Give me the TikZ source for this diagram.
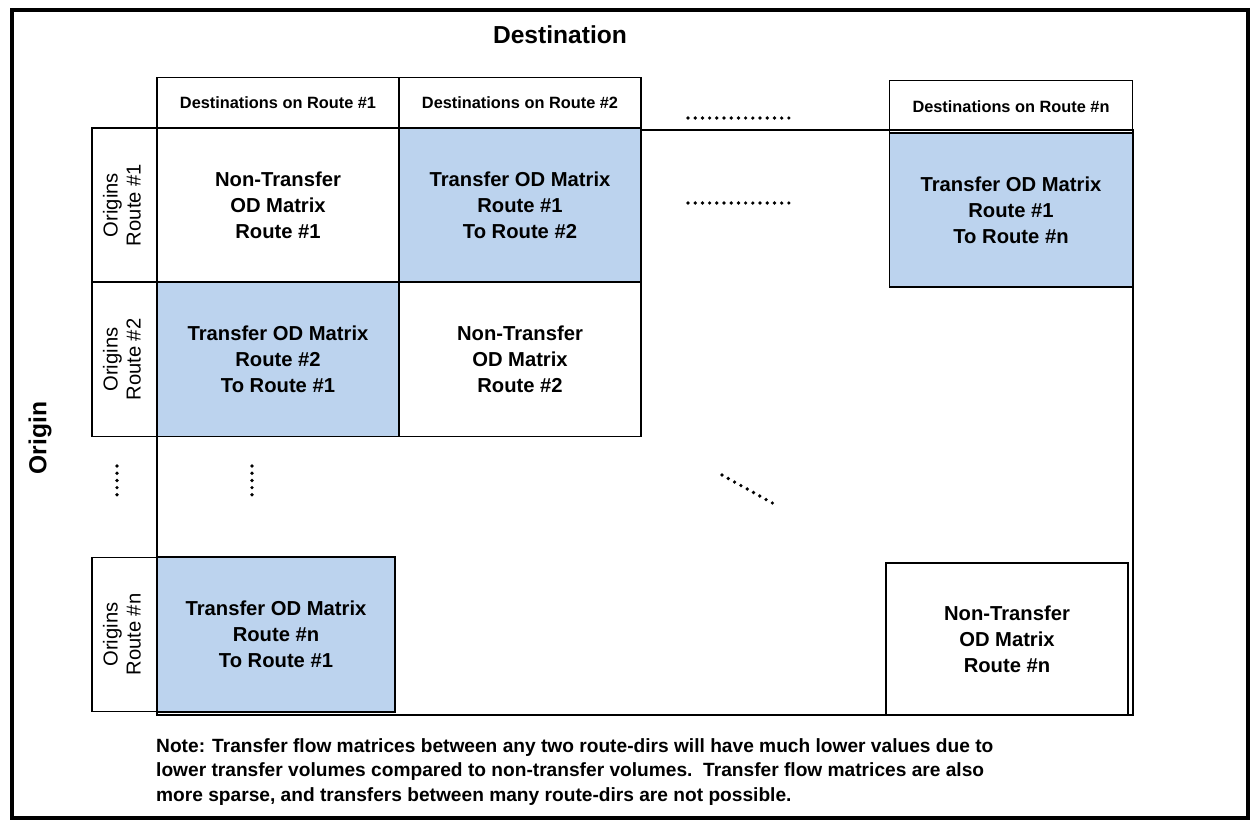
\documentclass[tikz,border=0pt]{standalone}
\usepackage{fontspec}
\setmainfont{Liberation Sans}
\usepackage{tikz}
\definecolor{tblue}{RGB}{188,211,238}
\tikzset{
    cell/.style={draw, line width=0.8pt, minimum width=4.84cm, minimum height=3.08cm,
        align=center, font=\bfseries\fontsize{11.5}{14.7}\selectfont, inner sep=0pt},
    head/.style={draw, line width=0.8pt, minimum width=4.84cm, minimum height=1.02cm,
        font=\bfseries\fontsize{9.3}{11}\selectfont, inner sep=0pt},
    orig/.style={draw, line width=0.8pt, minimum width=1.3cm, minimum height=3.08cm,
        inner sep=0pt, font=\fontsize{11.5}{13.2}\selectfont},
    dots/.style={line width=2.1pt, line cap=round, dash pattern=on 0pt off 4.1pt}
}
\newcommand{\origtext}[1]{\rotatebox{90}{\begin{tabular}{@{}c@{}}Origins\\Route #1\end{tabular}}}
\begin{document}
\begin{tikzpicture}[x=0.02cm, y=-0.02cm]
    \useasboundingbox (0,0) rectangle (1253,826);
    \draw[line width=1.8pt] (12,10) rectangle (1248,818);
    \node[font=\bfseries\fontsize{14}{16}\selectfont] (dest) at (560,35) {Destination};
    \node[font=\bfseries\fontsize{14}{16}\selectfont, rotate=90] (orig) at (40,438) {Origin};
    % outline of the whole matrix
    \draw[line width=0.8pt] (157,130) rectangle (1133,715);
    \node[head] (h1) at (278,103) {Destinations on Route \#1};
    \node[head] (h2) at (520,103) {Destinations on Route \#2};
    \node[head, minimum width=4.86cm, minimum height=1.06cm] (hn) at (1011,107) {Destinations on Route \#n};
    \node[orig] (o1) at (124.5,205) {\origtext{\#1}};
    \node[orig] (o2) at (124.5,359.5) {\origtext{\#2}};
    \node[orig] (on) at (124.5,634.5) {\origtext{\#n}};
    \node[cell, fill=white] (c11) at (278,205) {Non-Transfer\\OD Matrix\\Route \#1};
    \node[cell, fill=tblue] (c12) at (520,205) {Transfer OD Matrix\\Route \#1\\To Route \#2};
    \node[cell, fill=tblue, minimum width=4.86cm] (c1n) at (1011,210) {Transfer OD Matrix\\Route \#1\\To Route \#n};
    \node[cell, fill=tblue] (c21) at (278,359.5) {Transfer OD Matrix\\Route \#2\\To Route \#1};
    \node[cell, fill=white] (c22) at (520,359.5) {Non-Transfer\\OD Matrix\\Route \#2};
    \node[cell, fill=tblue, minimum width=4.76cm, minimum height=3.1cm] (cn1) at (276,634.5) {Transfer OD Matrix\\Route \#n\\To Route \#1};
    \node[cell, fill=white, minimum height=3.04cm] (cnn) at (1007,639) {Non-Transfer\\OD Matrix\\Route \#n};
    % ellipsis dots
    \draw[dots] (688,118) -- (790,118);
    \draw[dots] (688,203) -- (790,203);
    \draw[dots] (117,466) -- (117,501);
    \draw[dots] (252,466) -- (252,501);
    \draw[dots] (722,475) -- (776,505);
    \node[anchor=west, align=left, font=\bfseries\fontsize{10.9}{13.9}\selectfont] (note) at (150,772)
        {Note: Transfer flow matrices between any two route-dirs will have much lower values due to\\
         lower transfer volumes compared to non-transfer volumes.\ \ Transfer flow matrices are also\\
         more sparse, and transfers between many route-dirs are not possible.};
\end{tikzpicture}
\end{document}
